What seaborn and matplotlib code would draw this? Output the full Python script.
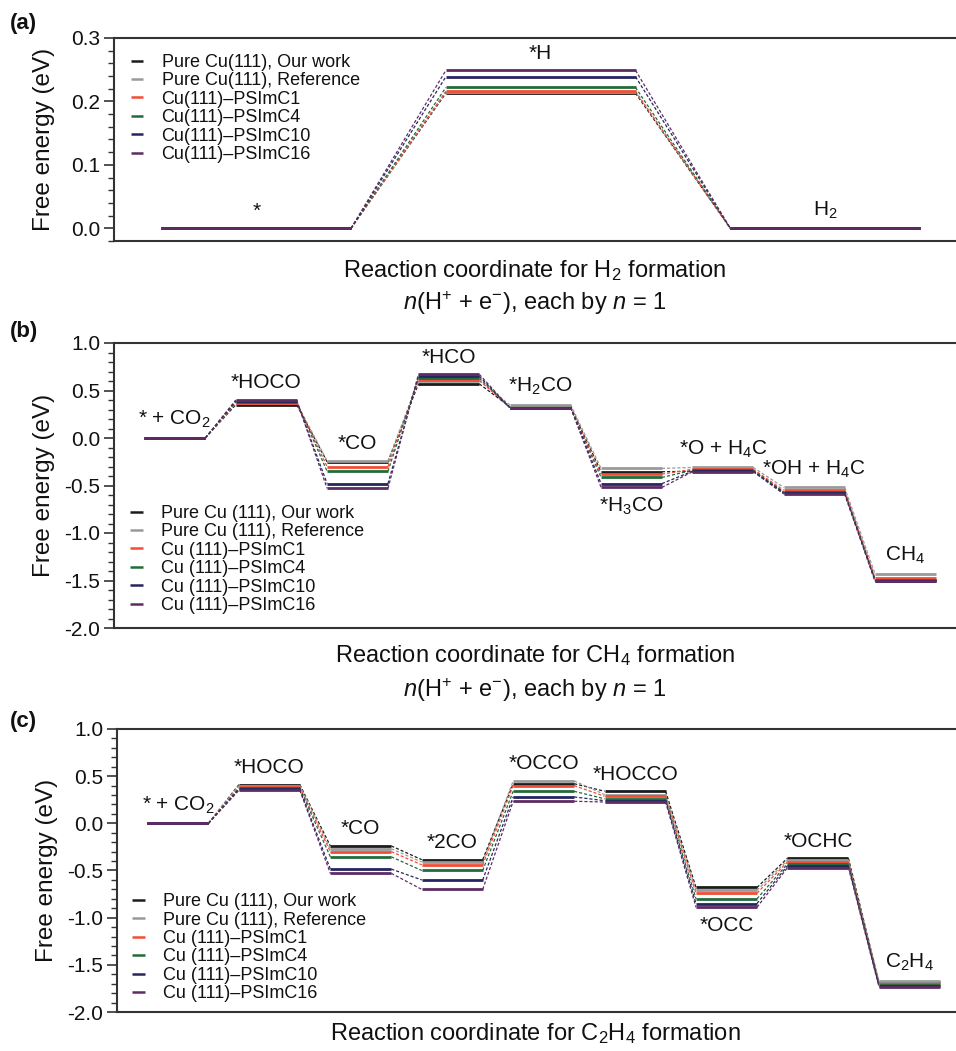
import matplotlib
matplotlib.use("Agg")
import matplotlib.pyplot as plt
from matplotlib.ticker import MultipleLocator, FormatStrFormatter
import numpy as np
import pandas as pd
import seaborn as sns

# ---------------- data ----------------
series_a = ["Pure Cu(111), Our work", "Pure Cu(111), Reference", "Cu(111)–PSImC1",
            "Cu(111)–PSImC4", "Cu(111)–PSImC10", "Cu(111)–PSImC16"]
series_bc = ["Pure Cu (111), Our work", "Pure Cu (111), Reference", "Cu (111)–PSImC1",
             "Cu (111)–PSImC4", "Cu (111)–PSImC10", "Cu (111)–PSImC16"]
colors = ["#1c1c1c", "#9a9a9a", "#f04e37", "#236b3a", "#25255f", "#5e2c63"]

# (a) H2 formation
states_a = ["*", "*H", "H$_2$"]
h2_our = [0.0, 0.213, 0.0]
h2_ref = [0.0, 0.215, 0.0]
h2_c1 = [0.0, 0.216, 0.0]
h2_c4 = [0.0, 0.222, 0.0]
h2_c10 = [0.0, 0.239, 0.0]
h2_c16 = [0.0, 0.249, 0.0]

# (b) CH4 formation
states_b = ["* + CO$_2$", "*HOCO", "*CO", "*HCO", "*H$_2$CO", "*H$_3$CO",
            "*O + H$_4$C", "*OH + H$_4$C", "CH$_4$"]
ch4_our = [0.0, 0.35, -0.25, 0.57, 0.33, -0.355, -0.35, -0.57, -1.49]
ch4_ref = [0.0, 0.37, -0.24, 0.60, 0.35, -0.32, -0.31, -0.52, -1.43]
ch4_c1 = [0.0, 0.37, -0.30, 0.61, 0.32, -0.38, -0.33, -0.55, -1.47]
ch4_c4 = [0.0, 0.38, -0.35, 0.63, 0.32, -0.415, -0.34, -0.57, -1.49]
ch4_c10 = [0.0, 0.39, -0.48, 0.65, 0.32, -0.48, -0.35, -0.58, -1.50]
ch4_c16 = [0.0, 0.40, -0.53, 0.67, 0.32, -0.52, -0.355, -0.59, -1.51]

# (c) C2H4 formation
states_c = ["* + CO$_2$", "*HOCO", "*CO", "*2CO", "*OCCO", "*HOCCO", "*OCC",
            "*OCHC", "C$_2$H$_4$"]
c2h4_our = [0.0, 0.41, -0.24, -0.385, 0.42, 0.34, -0.68, -0.37, -1.685]
c2h4_ref = [0.0, 0.40, -0.27, -0.41, 0.45, 0.305, -0.71, -0.39, -1.67]
c2h4_c1 = [0.0, 0.38, -0.30, -0.44, 0.40, 0.287, -0.74, -0.41, -1.70]
c2h4_c4 = [0.0, 0.37, -0.355, -0.50, 0.34, 0.26, -0.80, -0.43, -1.71]
c2h4_c10 = [0.0, 0.36, -0.485, -0.60, 0.28, 0.24, -0.85, -0.45, -1.72]
c2h4_c16 = [0.0, 0.35, -0.53, -0.70, 0.234, 0.226, -0.89, -0.47, -1.73]

# ---------------- style ----------------
sns.set_theme(style="ticks")
plt.rcParams.update({
    "font.family": ["Liberation Sans", "DejaVu Sans"],
    "mathtext.fontset": "custom",
    "mathtext.rm": "Liberation Sans",
    "mathtext.it": "Liberation Sans:italic",
    "mathtext.bf": "Liberation Sans:bold",
    "axes.unicode_minus": False,
    "text.color": "#111111",
    "axes.labelcolor": "#111111",
    "ytick.color": "#333333",
    "ytick.labelcolor": "#111111",
})

W, H = 956, 1051
fig = plt.figure(figsize=(W / 100, H / 100), dpi=100)


def frame(states, energies, names):
    lev, con = [], []
    for name, vals in zip(names, energies):
        for i, v in enumerate(vals):
            lev.append(dict(series=name, seg=i, x=3 * i, y=v))
            lev.append(dict(series=name, seg=i, x=3 * i + 2, y=v))
            if i < len(vals) - 1:
                con.append(dict(series=name, seg=i, x=3 * i + 2, y=v))
                con.append(dict(series=name, seg=i, x=3 * i + 3, y=vals[i + 1]))
    return pd.DataFrame(lev), pd.DataFrame(con)


def panel(rect, states, energies, names, xlim, ylim, major, minor, below, legend_anchor):
    ax = fig.add_axes([rect[0] / W, 1 - (rect[1] + rect[3]) / H, rect[2] / W, rect[3] / H])
    lev, con = frame(states, energies, names)
    pal = dict(zip(names, colors))
    sns.lineplot(data=con, x="x", y="y", hue="series", units="seg", estimator=None,
                 hue_order=names, palette=pal, sort=False, legend=False, ax=ax,
                 lw=0.9, linestyle=(0, (2.5, 1.6)))
    sns.lineplot(data=lev, x="x", y="y", hue="series", units="seg", estimator=None,
                 hue_order=names, palette=pal, sort=False, legend=True, ax=ax,
                 lw=2.0, solid_capstyle="butt")
    handles, labels = ax.get_legend_handles_labels()
    leg = ax.legend(handles, labels, loc="upper left", bbox_to_anchor=legend_anchor,
                    frameon=False, fontsize=13, handlelength=0.7, handletextpad=1.0,
                    labelspacing=0.08, borderaxespad=0, borderpad=0)
    for ln in leg.get_lines():
        ln.set_linewidth(1.8)
    # state labels
    arr = np.array(energies)
    for i, s in enumerate(states):
        if i in below:
            ax.annotate(s, xy=(3 * i + 1, arr[:, i].min()), xytext=(0, -6),
                        textcoords="offset points", ha="center", va="top", fontsize=15)
        else:
            ax.annotate(s, xy=(3 * i + 1, arr[:, i].max()), xytext=(0, 5.5),
                        textcoords="offset points", ha="center", va="bottom", fontsize=15)
    ax.set_xlim(*xlim)
    ax.set_ylim(*ylim)
    ax.set_xticks([])
    ax.set_xlabel("")
    ax.set_ylabel("Free energy (eV)", fontsize=17.5)
    ax.yaxis.set_label_coords(-0.083, 0.5)
    ax.yaxis.label.set_verticalalignment("center")
    ax.yaxis.set_major_locator(MultipleLocator(major))
    ax.yaxis.set_minor_locator(MultipleLocator(minor))
    ax.yaxis.set_major_formatter(FormatStrFormatter("%.1f"))
    ax.tick_params(axis="y", which="major", direction="out", length=7, width=1.2, labelsize=15, pad=3)
    ax.tick_params(axis="y", which="minor", direction="out", length=4, width=1.0)
    for sp in ["top", "left", "bottom"]:
        ax.spines[sp].set_linewidth(1.5)
        ax.spines[sp].set_color("#333333")
    ax.spines["right"].set_visible(False)
    return ax


ax_a = panel((114, 38, 842, 203), states_a,
             [h2_our, h2_ref, h2_c1, h2_c4, h2_c10, h2_c16], series_a,
             (-0.5, 8.38), (-0.02, 0.3), 0.1, 0.02, [], (0.02, 0.922))
ax_b = panel((114, 343, 842, 285), states_b,
             [ch4_our, ch4_ref, ch4_c1, ch4_c4, ch4_c10, ch4_c16], series_bc,
             (-1, 26.66), (-2.0, 1.0), 0.5, 0.1, [5], (0.019, 0.432))
ax_c = panel((117, 729, 839, 283), states_c,
             [c2h4_our, c2h4_ref, c2h4_c1, c2h4_c4, c2h4_c10, c2h4_c16], series_bc,
             (-1, 26.53), (-2.0, 1.0), 0.5, 0.1, [6], (0.018, 0.42))

# x-axis descriptions
xc = 535 / W
fig.text(xc, 1 - 271 / H, "Reaction coordinate for H$_2$ formation", ha="center", va="center", fontsize=17)
fig.text(xc, 1 - 303 / H, r"$\mathit{n}$(H$^{+}$ + e$^{-}$), each by $\mathit{n}$ = 1", ha="center", va="center", fontsize=17)
fig.text(xc, 1 - 656 / H, "Reaction coordinate for CH$_4$ formation", ha="center", va="center", fontsize=17)
fig.text(xc, 1 - 690 / H, r"$\mathit{n}$(H$^{+}$ + e$^{-}$), each by $\mathit{n}$ = 1", ha="center", va="center", fontsize=17)
fig.text(xc, 1 - 1034 / H, "Reaction coordinate for C$_2$H$_4$ formation", ha="center", va="center", fontsize=17)

# panel letters
for lab, y in [("(a)", 24), ("(b)", 331), ("(c)", 722)]:
    fig.text(10 / W, 1 - y / H, lab, ha="left", va="center", fontsize=16, fontweight="bold")

fig.savefig("out.png", dpi=100)
